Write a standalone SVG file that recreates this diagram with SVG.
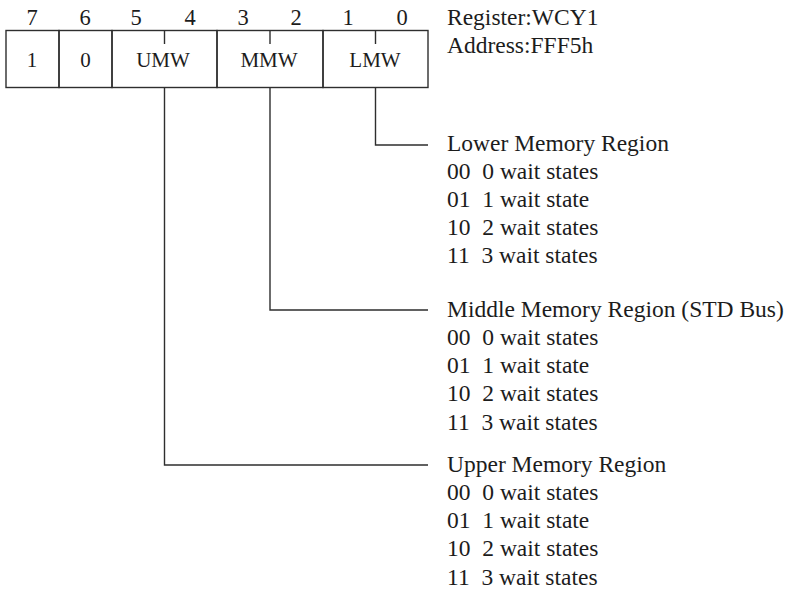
<svg xmlns="http://www.w3.org/2000/svg" width="791" height="596" viewBox="0 0 791 596">
  <style>
    .bg { fill: #ffffff; }
    .cell { fill: none; stroke: #2e2e2e; stroke-width: 1.4; }
    .wire { fill: none; stroke: #2e2e2e; stroke-width: 1.4; }
    .bit { font-family: "Liberation Serif", "Times New Roman", serif; font-size: 22.5px; fill: #1c1c1c; text-anchor: middle; }
    .field { font-family: "Liberation Serif", "Times New Roman", serif; font-size: 21px; fill: #1c1c1c; text-anchor: middle; }
    .note { font-family: "Liberation Serif", "Times New Roman", serif; font-size: 23.5px; fill: #1c1c1c; white-space: pre; }
  </style>
  <rect class="bg" x="0" y="0" width="791" height="596"/>

  <!-- bit numbers -->
  <g id="bit-numbers">
    <text class="bit" x="32" y="24.5">7</text>
    <text class="bit" x="85" y="24.5">6</text>
    <text class="bit" x="136" y="24.5">5</text>
    <text class="bit" x="190" y="24.5">4</text>
    <text class="bit" x="243" y="24.5">3</text>
    <text class="bit" x="296" y="24.5">2</text>
    <text class="bit" x="348" y="24.5">1</text>
    <text class="bit" x="402" y="24.5">0</text>
  </g>

  <!-- register fields -->
  <g id="bit7">
    <rect class="cell" x="6" y="30.5" width="53" height="57"/>
    <text class="field" x="32" y="66.5">1</text>
  </g>
  <g id="bit6">
    <rect class="cell" x="59" y="30.5" width="53" height="57"/>
    <text class="field" x="85.5" y="66.5">0</text>
  </g>
  <g id="umw">
    <rect class="cell" x="112" y="30.5" width="105" height="57"/>
    <line class="cell" x1="164.5" y1="30.5" x2="164.5" y2="44"/>
    <text class="field" x="163" y="66.5">UMW</text>
  </g>
  <g id="mmw">
    <rect class="cell" x="217" y="30.5" width="106" height="57"/>
    <line class="cell" x1="270" y1="30.5" x2="270" y2="44"/>
    <text class="field" x="269" y="66.5">MMW</text>
  </g>
  <g id="lmw">
    <rect class="cell" x="323" y="30.5" width="105" height="57"/>
    <line class="cell" x1="375.5" y1="30.5" x2="375.5" y2="44"/>
    <text class="field" x="375" y="66.5">LMW</text>
  </g>

  <!-- register identification -->
  <g id="register-info">
    <text class="note" x="447" y="25">Register:WCY1</text>
    <text class="note" x="447" y="53">Address:FFF5h</text>
  </g>

  <!-- connectors from each field to its description -->
  <g id="connectors">
    <path class="wire" d="M375.5 87.5 V145 H428"/>
    <path class="wire" d="M270 87.5 V310 H428"/>
    <path class="wire" d="M164.5 87.5 V465 H428"/>
  </g>

  <g id="lower-region">
    <text class="note" x="447" y="151">Lower Memory Region</text>
    <text class="note" x="447" y="179">00  0 wait states</text>
    <text class="note" x="447" y="207">01  1 wait state</text>
    <text class="note" x="447" y="235">10  2 wait states</text>
    <text class="note" x="447" y="263">11  3 wait states</text>
  </g>

  <g id="middle-region">
    <text class="note" x="447" y="317">Middle Memory Region (STD Bus)</text>
    <text class="note" x="447" y="345">00  0 wait states</text>
    <text class="note" x="447" y="373">01  1 wait state</text>
    <text class="note" x="447" y="401">10  2 wait states</text>
    <text class="note" x="447" y="430">11  3 wait states</text>
  </g>

  <g id="upper-region">
    <text class="note" x="447" y="472">Upper Memory Region</text>
    <text class="note" x="447" y="500">00  0 wait states</text>
    <text class="note" x="447" y="528">01  1 wait state</text>
    <text class="note" x="447" y="556">10  2 wait states</text>
    <text class="note" x="447" y="585">11  3 wait states</text>
  </g>
</svg>
